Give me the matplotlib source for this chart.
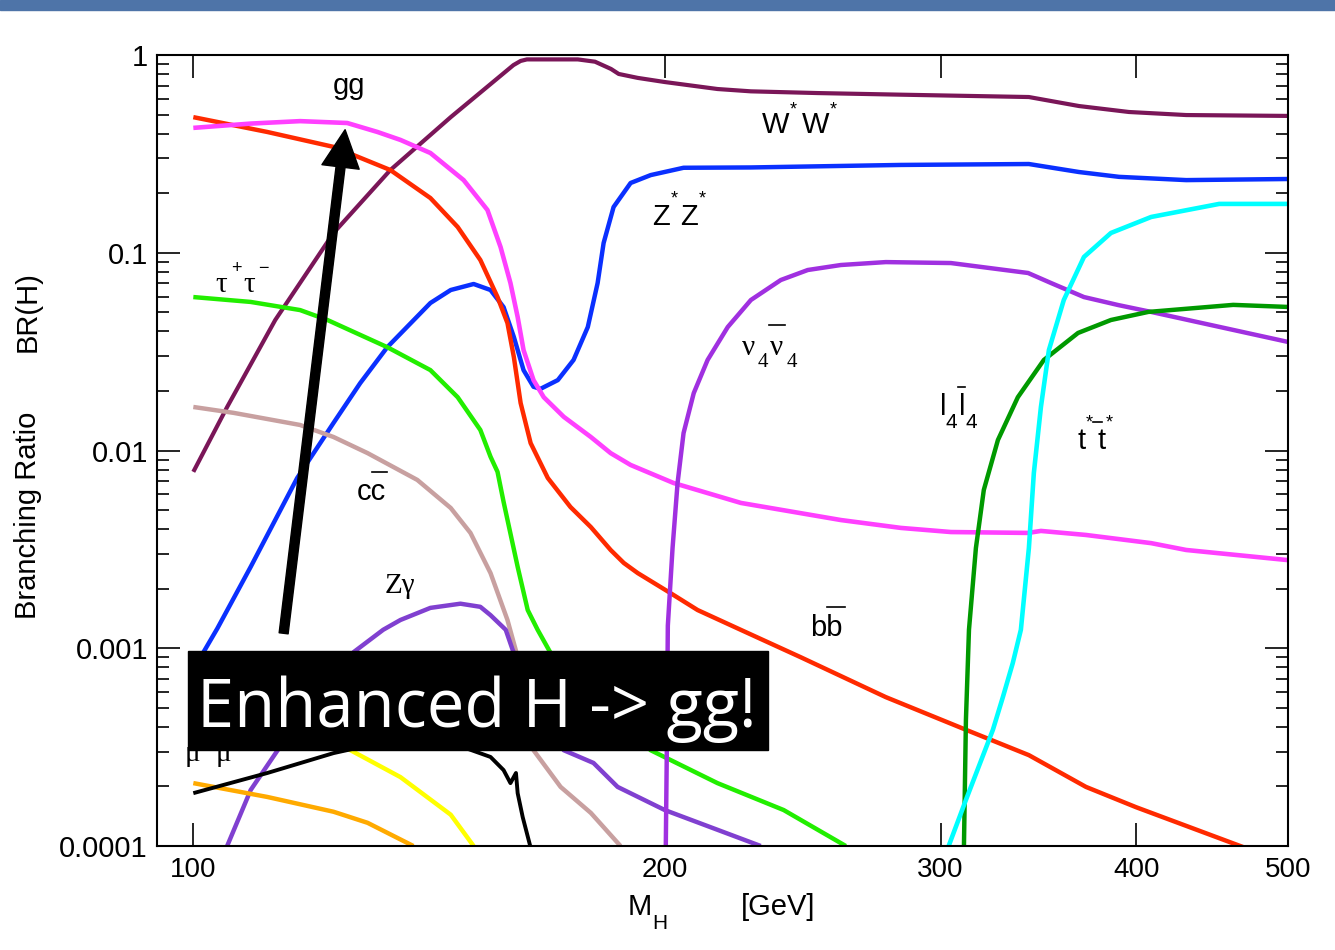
import numpy as np
import matplotlib
matplotlib.use("Agg")
import matplotlib.pyplot as plt
from matplotlib.patches import Rectangle, FancyArrowPatch
from matplotlib.lines import Line2D
from matplotlib.ticker import FixedLocator, NullLocator, LogLocator, NullFormatter

SANS = ['Liberation Sans', 'DejaVu Sans']
SERIF = ['Liberation Serif', 'DejaVu Serif']
plt.rcParams['font.family'] = SANS

# ---------------- data (M_H in GeV, branching ratio) ----------------
ww_m = [100, 105.1, 112.8, 122.9, 133.6, 146.0, 160.1, 161.8, 163.3, 176.0, 180.5, 184.8,
        186.9, 192.2, 200, 216.1, 227, 250.4, 283, 341.6, 367.7, 395.7, 430.5, 500]
ww_br = [0.0078, 0.0166, 0.0457, 0.126, 0.262, 0.485, 0.889, 0.933, 0.95, 0.95, 0.925, 0.85,
         0.802, 0.766, 0.73, 0.673, 0.655, 0.642, 0.63, 0.613, 0.552, 0.515, 0.497, 0.492]

zz_m = [100, 103.6, 108.8, 116.5, 122.9, 127.8, 133.0, 141.7, 146.0, 151.0, 154.8, 157.8,
        160.2, 162.5, 164.9, 166.6, 170.9, 174.9, 178.6, 181.2, 182.8, 185.5, 190.2, 195.9,
        205.6, 227, 283, 341.6, 367.7, 390, 430.5, 500]
zz_br = [0.00078, 0.00126, 0.00258, 0.00726, 0.0138, 0.0219, 0.0333, 0.0557, 0.0648, 0.0695,
         0.0648, 0.0531, 0.0375, 0.0255, 0.0210, 0.0205, 0.0227, 0.0287, 0.0421, 0.0703,
         0.112, 0.1703, 0.2253, 0.247, 0.269, 0.27, 0.278, 0.281, 0.256, 0.242, 0.233, 0.236]

bb_m = [100, 111.5, 122.9, 133.6, 141.7, 147.5, 152.5, 156.4, 158.7, 160.2, 161.8, 164.2,
        168.4, 174.1, 179.4, 184.7, 188.3, 192.2, 201.7, 209.9, 223.6, 244.3, 276.8, 311.4,
        341.6, 371.5, 400, 468]
bb_br = [0.485, 0.408, 0.343, 0.262, 0.1891, 0.135, 0.0919, 0.0597, 0.0441, 0.0297, 0.0174,
         0.0109, 0.00726, 0.00518, 0.0041, 0.00314, 0.0027, 0.0024, 0.0019, 0.00156, 0.00124,
         0.0009, 0.000566, 0.000387, 0.000288, 0.000199, 0.000157, 0.0000988]

gg_m = [100, 108.8, 117.0, 125.4, 131.1, 135.6, 141.7, 148.8, 154.1, 157.1, 159.4, 161.1,
        162.5, 164.9, 167.4, 172.4, 179.4, 184.7, 190.2, 202.6, 223.7, 259.1, 283, 304.6,
        341.2, 347.7, 371.5, 408.9, 430.5, 500]
gg_br = [0.428, 0.45, 0.463, 0.453, 0.408, 0.372, 0.3195, 0.233, 0.1645, 0.1069, 0.0703,
         0.0473, 0.0322, 0.0227, 0.0186, 0.0148, 0.0117, 0.0097, 0.00845, 0.00685, 0.00543,
         0.00445, 0.00406, 0.00387, 0.00383, 0.00392, 0.00374, 0.0034, 0.00314, 0.00279]

tau_m = [100, 108.8, 117.0, 121.8, 133.0, 141.7, 147.5, 152.5, 154.8, 156.4, 157.8, 161.1,
         163.5, 165.9, 169.1, 195.9, 216.1, 238.2, 261]
tau_br = [0.0597, 0.0564, 0.0513, 0.0457, 0.0333, 0.0255, 0.0186, 0.0127, 0.0093, 0.0078,
          0.0055, 0.00258, 0.00156, 0.00124, 0.000946, 0.000305, 0.000208, 0.000152, 0.0001]

cc_m = [100, 106.1, 117.0, 122.9, 129.2, 139.0, 146.0, 150.3, 154.8, 158.7, 160.7, 164.9,
        171.6, 179.4, 187.4]
cc_br = [0.0166, 0.0155, 0.01346, 0.0117, 0.0097, 0.0071, 0.00512, 0.00383, 0.0024, 0.00139,
         0.00097, 0.000305, 0.000199, 0.000147, 0.0001]

zg_m = [105.1, 108.8, 113.2, 126.6, 132.2, 135.6, 141.7, 148.1, 152.5, 154.8, 158.3, 160.0,
        172.4, 180.1, 186.6, 200, 230.3]
zg_br = [0.0001, 0.000192, 0.000305, 0.000957, 0.00124, 0.00139, 0.0016, 0.00168, 0.00162,
         0.00147, 0.00124, 0.00097, 0.000305, 0.000263, 0.000199, 0.000152, 0.0001]

yel_m = [100, 115, 126, 135.6, 146, 151]
yel_br = [0.00045, 0.0004, 0.000305, 0.000223, 0.000144, 0.0001]

gam_m = [100, 111.5, 122.9, 135.6, 144, 149.2, 154.8, 157.8, 159.4, 160.7, 161.1, 162.3, 164.1]
gam_br = [0.000185, 0.000234, 0.000295, 0.00035, 0.00035, 0.000313, 0.000282, 0.000242,
          0.000208, 0.000234, 0.000185, 0.00014, 0.0001]

mu_m = [100, 111.5, 122.9, 129.2, 138.2]
mu_br = [0.000208, 0.000177, 0.000149, 0.000131, 0.0001]

nu_m = [200.3, 200.6, 200.9, 202.3, 203.8, 205.6, 208.7, 213.0, 219.4, 227, 237.2, 246.8,
        259.1, 276.8, 304.6, 341.2, 352.9, 370.4, 389.5, 408.9, 500]
nu_br = [0.0001, 0.000305, 0.0013, 0.00321, 0.00685, 0.01225, 0.0195, 0.0287, 0.0421, 0.0577,
         0.0728, 0.0818, 0.0867, 0.0897, 0.0887, 0.079, 0.0703, 0.0597, 0.0544, 0.0502, 0.0354]

l4_m = [310.5, 311.4, 312.8, 316.0, 319.7, 326.4, 336.1, 349.2, 367.2, 385.4, 407.1, 461.3, 500]
l4_br = [0.0001, 0.000434, 0.00124, 0.00321, 0.00632, 0.0113, 0.0186, 0.0287, 0.0393, 0.0457,
         0.0502, 0.0545, 0.0532]

tt_m = [303.6, 311.4, 324.0, 328.8, 333.6, 337.6, 341.6, 344.1, 347.7, 351.8, 359.6, 370.4,
        385.4, 408.9, 451.9, 500]
tt_br = [0.0001, 0.000171, 0.000387, 0.000567, 0.000841, 0.00124, 0.00321, 0.00769, 0.0166,
         0.0322, 0.0577, 0.0952, 0.1259, 0.1517, 0.1766, 0.1766]

x_ticks = [100, 200, 300, 400, 500]
x_tick_labels = ['100', '200', '300', '400', '500']
y_ticks = [1e-4, 1e-3, 1e-2, 1e-1, 1]
y_tick_labels = ['0.0001', '0.001', '0.01', '0.1', '1']

# ---------------- figure ----------------
W, H = 1335, 950
fig = plt.figure(figsize=(W / 100, H / 100), dpi=100)
fig.patches.append(Rectangle((0, 1 - 10 / H), 1, 10 / H, transform=fig.transFigure,
                             color='#4e74a8', zorder=0))

ax = fig.add_axes([157 / W, 1 - 846 / H, (1288 - 157) / W, (846 - 55) / H])
ax.set_xscale('log')
ax.set_yscale('log')
ax.set_xlim(94.8, 500)
ax.set_ylim(1e-4, 1)

series = [
    (ww_m, ww_br, '#7a1658', 3.0),
    (zz_m, zz_br, '#0a30ff', 3.2),
    (bb_m, bb_br, '#ff2a00', 3.2),
    (gg_m, gg_br, '#ff40ff', 3.3),
    (tau_m, tau_br, '#22ee00', 3.2),
    (cc_m, cc_br, '#c8a0a0', 3.2),
    (zg_m, zg_br, '#8040d0', 3.2),
    (yel_m, yel_br, '#ffff00', 3.2),
    (mu_m, mu_br, '#ffaa00', 3.2),
    (gam_m, gam_br, '#000000', 2.8),
    (nu_m, nu_br, '#a030e0', 3.2),
    (l4_m, l4_br, '#009900', 3.2),
    (tt_m, tt_br, '#00ffff', 3.3),
]
for m, b, c, lw in series:
    ax.plot(m, b, color=c, lw=lw, solid_joinstyle='round', solid_capstyle='butt', zorder=2)

for s in ax.spines.values():
    s.set_linewidth(1.5)

ax.xaxis.set_major_locator(FixedLocator(x_ticks))
ax.xaxis.set_minor_locator(NullLocator())
ax.set_xticklabels(x_tick_labels)
ax.yaxis.set_major_locator(FixedLocator(y_ticks))
ax.yaxis.set_minor_locator(LogLocator(base=10, subs=np.arange(2, 10), numticks=50))
ax.yaxis.set_minor_formatter(NullFormatter())
ax.set_yticklabels(y_tick_labels)
ax.tick_params(which='both', direction='in', top=True, right=True, width=1.2, color='k')
ax.tick_params(which='major', length=16.5)
ax.tick_params(which='minor', length=8.6)
ax.tick_params(axis='y', labelsize=21, pad=6.5)
ax.tick_params(axis='x', labelsize=20, pad=8)

# ---------------- annotations ----------------
def T(x, y, s, size=21, family=None, color='k', ha='left', va='baseline', **kw):
    return fig.text(x / W, 1 - y / H, s, fontsize=size, family=family or SANS,
                    color=color, ha=ha, va=va, **kw)

def bar(x0, x1, y):
    fig.add_artist(Line2D([x0 / W, x1 / W], [1 - y / H, 1 - y / H], color='k', lw=1.2))

T(333, 94, 'gg')
T(762, 133, 'W'); T(790, 114, '*', 13); T(802, 133, 'W'); T(830, 114, '*', 13)
T(652, 225, 'Z'); T(671, 203, '*', 13); T(680, 225, 'Z'); T(699, 203, '*', 13)
T(215, 292, 'τ', family=SERIF); T(231, 273, '+', 13); T(243, 292, 'τ', family=SERIF); T(258, 273, '−', 13)
T(357, 500, 'cc'); bar(372, 387, 472)
T(385, 593, 'Zγ', family=SERIF)
T(742, 355, 'ν', family=SERIF); T(758, 367, '4', 15, family=SERIF)
T(770, 355, 'ν', family=SERIF); T(787, 367, '4', 15, family=SERIF); bar(769, 785, 325)
T(810, 636, 'bb'); bar(827, 845, 607)
T(940, 415, 'l'); T(946, 428, '4', 15); T(959, 415, 'l'); T(965, 428, '4', 15); bar(958, 965, 387)
T(1078, 449, 't'); T(1086, 427, '*', 13); T(1097, 449, 't'); bar(1093, 1102, 422); T(1106, 427, '*', 13)
# mu+ mu- label: only the two mu glyphs peek out below the black box
T(185, 761, 'μ', family=SERIF); T(216, 761, 'μ', family=SERIF)

fig.text(28 / W, 1 - 515 / H, 'Branching Ratio', rotation=90, ha='center', va='center', fontsize=21)
fig.text(28 / W, 1 - 312 / H, 'BR(H)', rotation=90, ha='center', va='center', fontsize=21)
T(628, 915, 'M'); T(652, 929, 'H', 15); T(741, 915, '[GeV]')

# arrow pointing at gg
arrow = FancyArrowPatch((114.2, 0.00119), (125.0, 0.419),
                        arrowstyle='simple,head_length=27,head_width=27,tail_width=6.5',
                        mutation_scale=1, color='k', transform=ax.transData,
                        zorder=5, clip_on=False, shrinkA=0, shrinkB=0)
ax.add_patch(arrow)

# black box with text
fig.add_artist(Rectangle((188 / W, 1 - 750 / H), 580 / W, 99 / H, transform=fig.transFigure,
                         color='k', zorder=10))
t = T(197, 727, 'Enhanced H -> gg!', 50, family=['Open Sans', 'DejaVu Sans'], color='w', zorder=11)
fig.canvas.draw()
w = t.get_window_extent().width
t.set_fontsize(50 * 560 / w)

fig.savefig('out.png', dpi=100)
